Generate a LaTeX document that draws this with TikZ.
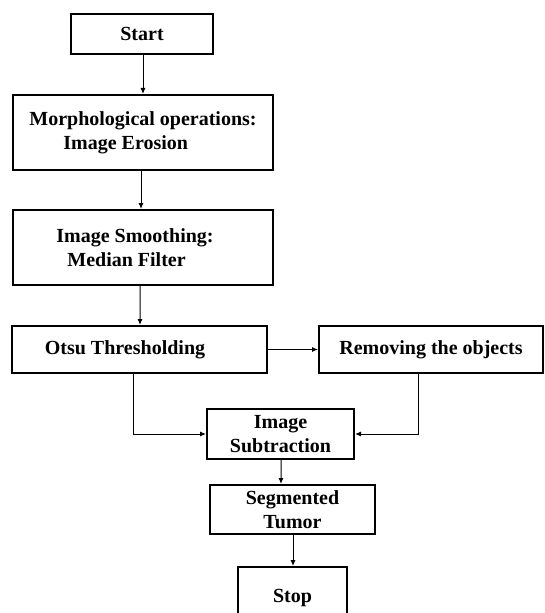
\documentclass[tikz,border=0pt]{standalone}
\usepackage{fontspec}
\setmainfont{Liberation Serif}
\usetikzlibrary{arrows.meta}
\begin{document}
\begin{tikzpicture}[x=1bp,y=-1bp,
  box/.style={draw, line width=2bp, inner sep=0pt, font=\fontsize{20bp}{24bp}\selectfont\bfseries},
  conn/.style={line width=1bp, -{Latex[length=6bp,width=5bp]}}]
\useasboundingbox (0,0) rectangle (545,613);
\node[box, minimum width=142bp, minimum height=40bp] (start) at (142,34) {Start};
\node[box, minimum width=260bp, minimum height=75bp, align=left] (morph) at (143,132.5)
  {Morphological operations:\\\hspace*{34bp}Image Erosion};
\node[box, minimum width=260bp, minimum height=75bp, align=left] (smooth) at (143,247.5)
  {Image Smoothing:\hspace*{16bp}\\\hspace*{11bp}Median Filter};
\node[box, minimum width=255bp, minimum height=47bp] (otsu) at (139.5,349.5)
  {Otsu Thresholding\hspace*{29bp}};
\node[box, minimum width=224bp, minimum height=47bp] (remove) at (431,349.5)
  {Removing the objects};
\node[box, minimum width=147bp, minimum height=50bp, align=center] (sub) at (280.5,434)
  {Image\\Subtraction};
\node[box, minimum width=165bp, minimum height=49bp, align=center] (segt) at (292.5,509.5)
  {Segmented\\Tumor};
\node[box, minimum width=109bp, minimum height=62bp] (stop) at (292.5,598)
  {Stop};
\draw[conn] ([xshift=1bp]start.south) -- (morph.north);
\draw[conn] ([xshift=-2bp]morph.south) -- ([xshift=-2bp]smooth.north);
\draw[conn] ([xshift=-3bp]smooth.south) -- ([xshift=0.5bp]otsu.north);
\draw[conn] (otsu.east) -- (remove.west);
\draw[conn] ([xshift=-6.5bp]otsu.south) |- (sub.west);
\draw[conn] ([xshift=-13bp]remove.south) |- (sub.east);
\draw[conn] ([xshift=0.5bp]sub.south) -- ([xshift=-11.5bp]segt.north);
\draw[conn] ([xshift=0.5bp]segt.south) -- ([xshift=0.5bp]stop.north);
\end{tikzpicture}
\end{document}
